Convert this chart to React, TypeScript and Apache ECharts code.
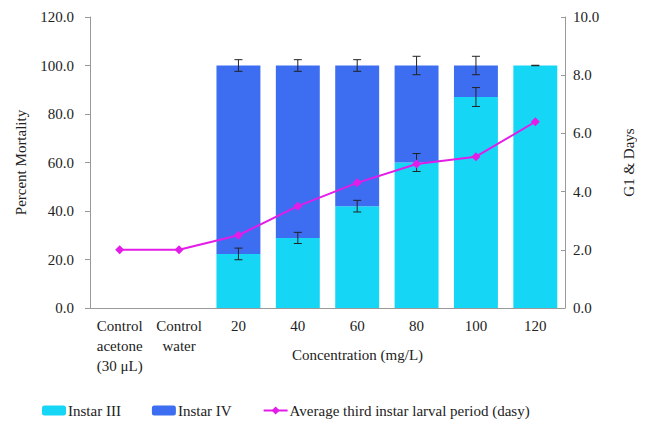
import React, { useEffect, useRef } from "react";
import * as echarts from "echarts";

const categories = ["Control\nacetone\n(30 μL)", "Control\nwater", "20", "40", "60", "80", "100", "120"];
const instar3 = [null, null, 22.3, 28.9, 42.0, 60.0, 87.0, 100.0];
const instar4 = [null, null, 77.7, 71.1, 58.0, 40.0, 13.0, 0.0];
const instar3Err = [null, null, 2.4, 2.3, 2.4, 3.7, 3.9, null];
const totalErr = [null, null, 2.4, 2.4, 2.4, 3.8, 3.8, 0.1];
const larvalPeriod = [2.0, 2.0, 2.5, 3.5, 4.3, 4.95, 5.2, 6.4];
const leftTicks = [0, 120, 20];
const rightTicks = [0, 10, 2];

const FONT = "'Liberation Serif', 'DejaVu Serif', 'Times New Roman', serif";
const TXT = "#222";

export default function App() {
  const ref = useRef<HTMLDivElement>(null);
  useEffect(() => {
    const chart = echarts.init(ref.current!, undefined, { renderer: "svg" });
    const errData: number[][] = [];
    instar3.forEach((v, i) => {
      if (v != null && instar3Err[i] != null) errData.push([i, v - (instar3Err[i] as number), v + (instar3Err[i] as number)]);
      const tot = (instar3[i] ?? 0) + (instar4[i] ?? 0);
      if (v != null && totalErr[i] != null) errData.push([i, tot - (totalErr[i] as number), tot + (totalErr[i] as number)]);
    });
    chart.setOption({
      animation: false,
      textStyle: { fontFamily: FONT, color: TXT },
      grid: { left: 90, right: 80, top: 17, bottom: 118 },
      legend: {
        data: ["Instar III", "Instar IV", "Average third instar larval period (dasy)"],
        left: 37,
        bottom: 3,
        itemWidth: 24,
        itemHeight: 10,
        itemGap: 31,
        textStyle: { fontFamily: FONT, fontSize: 15, color: TXT, padding: [0, 0, 0, -3] },
      },
      xAxis: {
        type: "category",
        data: categories,
        axisLine: { lineStyle: { color: "#999" } },
        axisTick: { lineStyle: { color: "#999" }, length: 4 },
        axisLabel: { fontFamily: FONT, fontSize: 15, color: TXT, lineHeight: 20, margin: 8, interval: 0 },
        name: "Concentration (mg/L)",
        nameLocation: "middle",
        nameGap: 39,
        nameMoveOverlap: false,
        nameTextStyle: { fontFamily: FONT, fontSize: 15, color: TXT, padding: [0, 0, 0, 60] },
      },
      yAxis: [
        {
          type: "value",
          min: leftTicks[0],
          max: leftTicks[1],
          interval: leftTicks[2],
          splitLine: { show: false },
          axisLine: { show: true, lineStyle: { color: "#999" } },
          axisTick: { show: true, lineStyle: { color: "#999" }, length: 5 },
          axisLabel: { formatter: (v: number) => v.toFixed(1), fontFamily: FONT, fontSize: 15, color: TXT, margin: 16 },
          name: "Percent Mortality",
          nameLocation: "middle",
          nameGap: 62,
          nameMoveOverlap: false,
          nameTextStyle: { fontFamily: FONT, fontSize: 15, color: TXT },
        },
        {
          type: "value",
          min: rightTicks[0],
          max: rightTicks[1],
          interval: rightTicks[2],
          splitLine: { show: false },
          axisLine: { show: true, lineStyle: { color: "#999" } },
          axisTick: { show: true, inside: true, lineStyle: { color: "#999" }, length: 4 },
          axisLabel: { formatter: (v: number) => v.toFixed(1), fontFamily: FONT, fontSize: 15, color: TXT, margin: 8 },
          name: "G1 & Days",
          nameLocation: "middle",
          nameGap: 56,
          nameRotate: 90,
          nameMoveOverlap: false,
          nameTextStyle: { fontFamily: FONT, fontSize: 15, color: TXT },
        },
      ],
      series: [
        {
          name: "Instar III",
          type: "bar",
          stack: "m",
          data: instar3,
          barWidth: "74%",
          itemStyle: { color: "#16D6F5" },
        },
        {
          name: "Instar IV",
          type: "bar",
          stack: "m",
          data: instar4,
          barWidth: "74%",
          itemStyle: { color: "#3D6EF2" },
        },
        {
          name: "err",
          type: "custom",
          yAxisIndex: 0,
          z: 5,
          data: errData,
          renderItem: (params: any, api: any) => {
            const x = api.value(0);
            const lo = api.coord([x, api.value(1)]);
            const hi = api.coord([x, api.value(2)]);
            const w = 4;
            const style = { stroke: "#222", lineWidth: 1 };
            return {
              type: "group",
              children: [
                { type: "line", shape: { x1: lo[0], y1: lo[1], x2: hi[0], y2: hi[1] }, style },
                { type: "line", shape: { x1: lo[0] - w, y1: lo[1], x2: lo[0] + w, y2: lo[1] }, style },
                { type: "line", shape: { x1: hi[0] - w, y1: hi[1], x2: hi[0] + w, y2: hi[1] }, style },
              ],
            };
          },
        },
        {
          name: "Average third instar larval period (dasy)",
          type: "line",
          yAxisIndex: 1,
          data: larvalPeriod,
          symbol: "diamond",
          symbolSize: 9,
          z: 10,
          lineStyle: { color: "#E31CE8", width: 2 },
          itemStyle: { color: "#E31CE8" },
        },
      ],
    });
    return () => chart.dispose();
  }, []);
  return <div ref={ref} style={{ width: 645, height: 426, marginLeft: -8, marginTop: -8 }} />;
}
